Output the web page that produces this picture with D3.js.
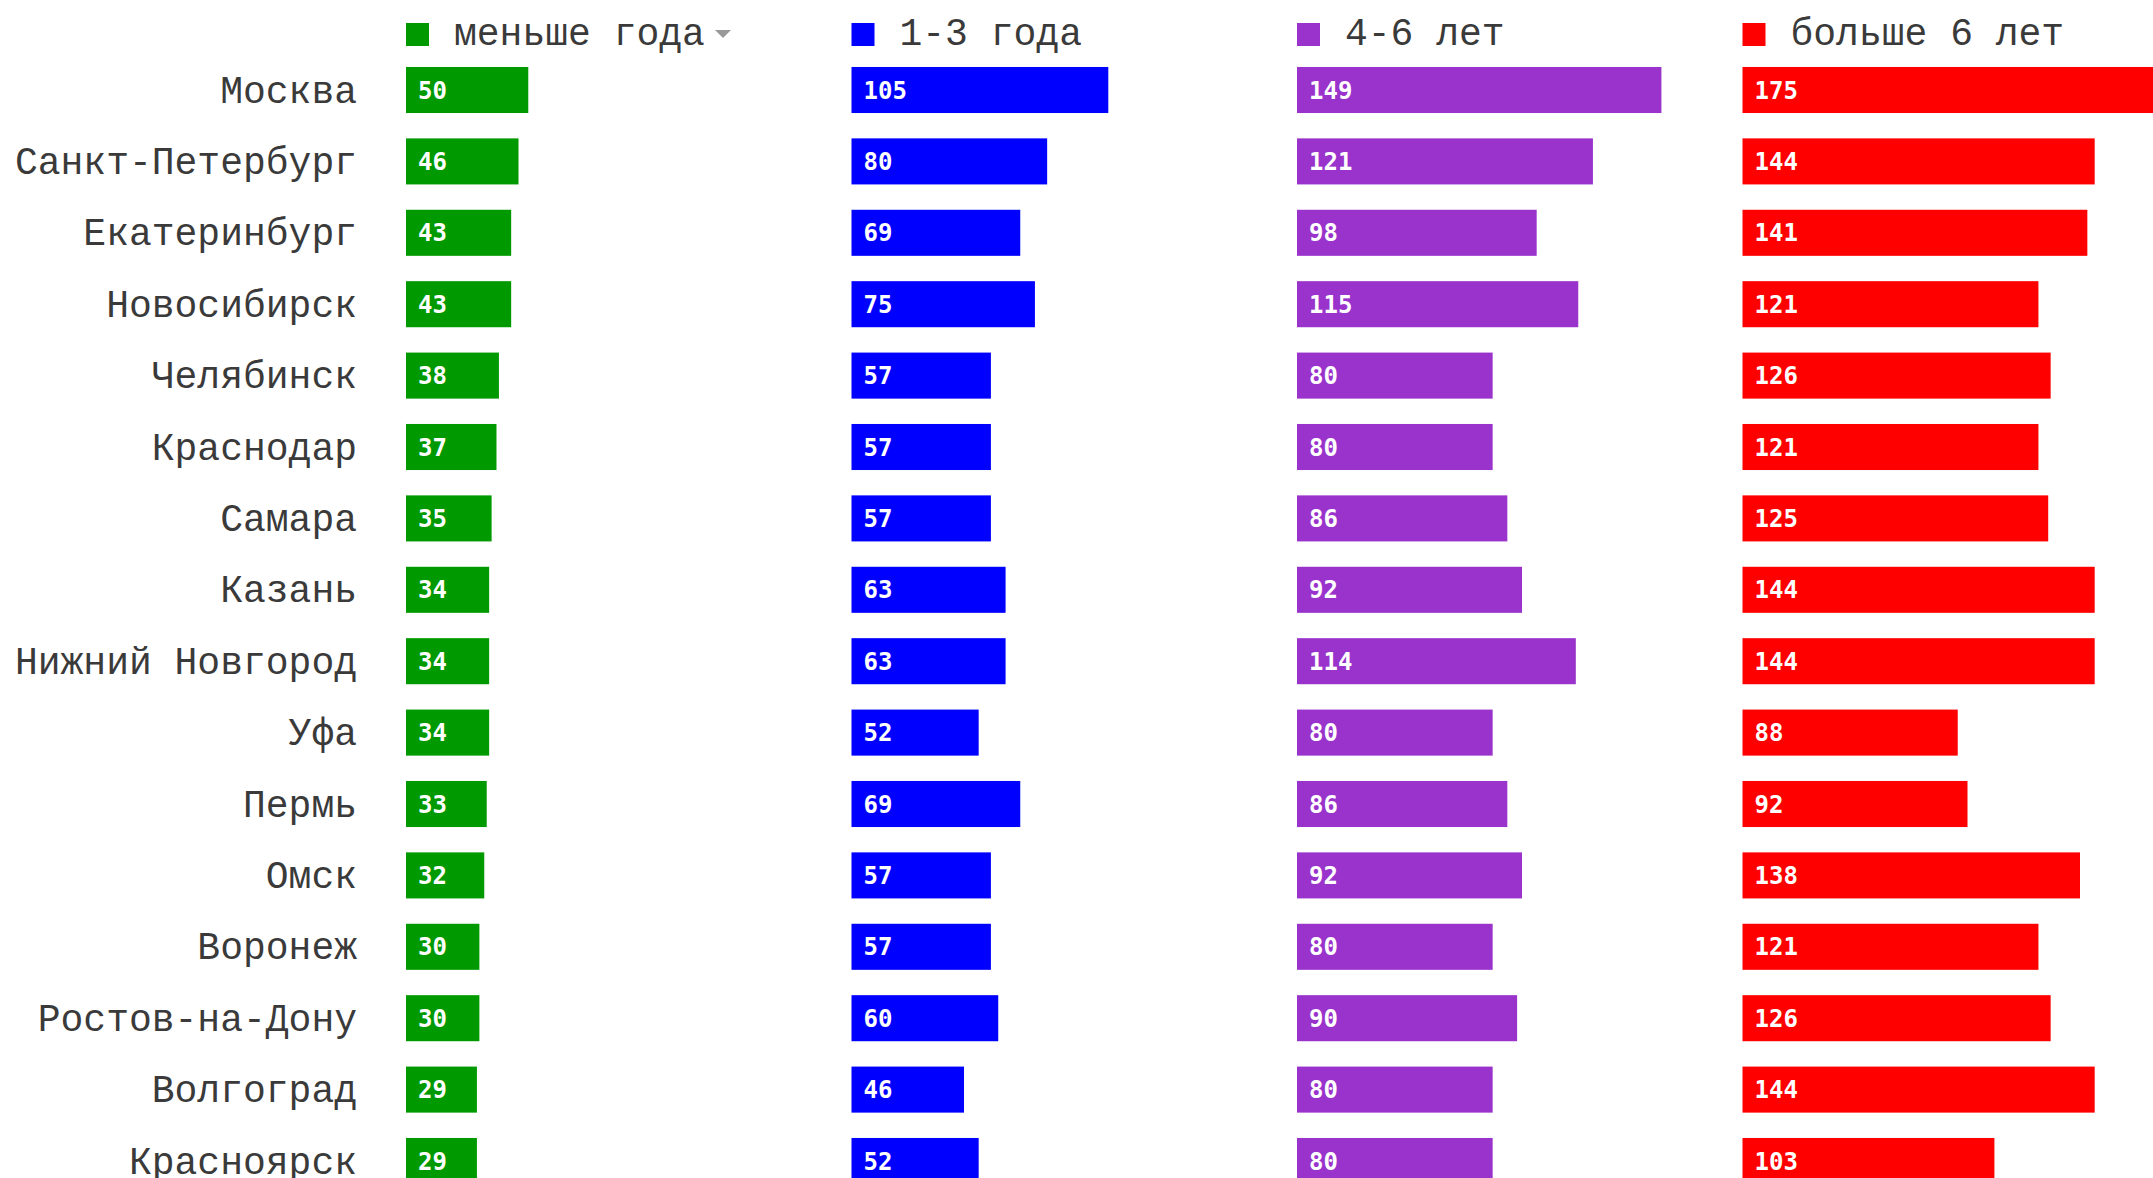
<!DOCTYPE html>
<html>
<head>
<meta charset="utf-8">
<script src="https://cdn.jsdelivr.net/npm/d3@7"></script>
<style>
  html, body { margin: 0; padding: 0; background: #fff; overflow: hidden; }
  svg { display: block; }
</style>
</head>
<body>
<svg id="chart" width="2153" height="1178"></svg>
<script>
const cities = ["Москва","Санкт-Петербург","Екатеринбург","Новосибирск","Челябинск","Краснодар","Самара","Казань","Нижний Новгород","Уфа","Пермь","Омск","Воронеж","Ростов-на-Дону","Волгоград","Красноярск"];
const seriesNames = ["меньше года","1-3 года","4-6 лет","больше 6 лет"];
const lessThan1 = [50,46,43,43,38,37,35,34,34,34,33,32,30,30,29,29];
const years1to3 = [105,80,69,75,57,57,57,63,63,52,69,57,57,60,46,52];
const years4to6 = [149,121,98,115,80,80,86,92,114,80,86,92,80,90,80,80];
const moreThan6 = [175,144,141,121,126,121,125,144,144,88,92,138,121,126,144,103];
const seriesValues = [lessThan1, years1to3, years4to6, moreThan6];
const colors = ["#009900","#0000ff","#9933cc","#ff0000"];

const svg = d3.select("#chart");

const colStart = 406, colStep = 445.5;
const col = d3.scaleBand().domain(seriesNames).range([colStart, colStart + colStep*4]).paddingInner(0).paddingOuter(0);
const x = d3.scaleLinear().domain([0, 175]).range([0, 428]);
const y = d3.scaleBand().domain(cities).range([54.3, 54.3 + 71.4*16]).paddingInner(0.355).paddingOuter(0.1775);

const labelFont = "'Liberation Mono', 'DejaVu Sans Mono', monospace";
const valueFont = "'DejaVu Sans Mono', monospace";

// city labels
svg.append("g").selectAll("text").data(cities).join("text")
  .attr("x", 357)
  .attr("y", d => y(d) + y.bandwidth()/2 + 12.5)
  .attr("text-anchor", "end")
  .attr("font-family", labelFont)
  .attr("font-size", 38)
  .attr("fill", "#3a3a3a")
  .text(d => d);

// legend
const leg = svg.append("g").selectAll("g").data(seriesNames).join("g")
  .attr("transform", d => `translate(${col(d)},0)`);
leg.append("rect").attr("x", 0).attr("y", 23).attr("width", 23).attr("height", 23)
  .attr("fill", (d,i) => colors[i]);
leg.append("text").attr("x", 48).attr("y", 45)
  .attr("font-family", labelFont).attr("font-size", 38).attr("fill", "#3a3a3a")
  .text(d => d);
// sort indicator triangle
svg.append("path")
  .attr("d", "M715,30 L731,30 L723,38 Z")
  .attr("fill", "#999");

// bars
seriesNames.forEach((s, si) => {
  const g = svg.append("g").attr("transform", `translate(${col(s)},0)`);
  const rows = g.selectAll("g").data(cities.map((c, i) => ({city: c, value: seriesValues[si][i]}))).join("g");
  rows.append("rect")
    .attr("x", x(0))
    .attr("y", d => y(d.city))
    .attr("width", d => x(d.value) - x(0))
    .attr("height", y.bandwidth())
    .attr("fill", colors[si]);
  rows.append("text")
    .attr("x", x(0) + 12)
    .attr("y", d => y(d.city) + y.bandwidth()/2 + 8.5)
    .attr("font-family", valueFont)
    .attr("font-weight", "bold")
    .attr("font-size", 24)
    .attr("fill", "#fff")
    .text(d => d.value);
});
</script>
</body>
</html>
